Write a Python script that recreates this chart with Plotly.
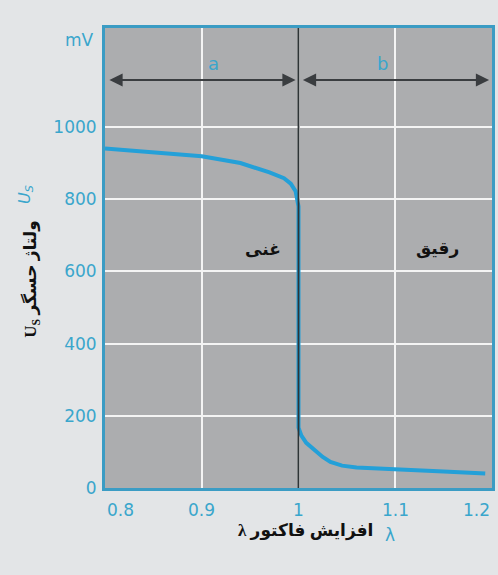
import plotly.graph_objects as go

# Data
lam = [0.8, 0.85, 0.9, 0.94, 0.97, 0.985, 0.992, 0.997, 1.0, 1.0, 1.003, 1.008, 1.016, 1.025, 1.033, 1.045, 1.06, 1.08, 1.1, 1.15, 1.193]
us_mv = [940, 930, 919, 900, 874, 858, 843, 822, 780, 167, 145, 125, 106, 86, 72, 62, 57, 54, 52, 46, 40]

x_tickvals = [0.8, 0.9, 1.0, 1.1, 1.2]
x_ticktext = ["0.8", "0.9", "1", "1.1", "1.2"]
y_tickvals = [0, 200, 400, 600, 800, 1000]
y_ticktext = ["0", "200", "400", "600", "800", "1000"]

region_labels = ["a", "b"]
region_spans = [(0.8, 1.0), (1.0, 1.2)]
region_label_x = [0.912, 1.087]
mix_labels = ["غنی", "رقیق"]
mix_x = [0.963, 1.144]
mix_y = [661, 661]

CYAN = "#3aa6cc"
AXIS = "#3b9cc4"
TICKFONT = dict(color=CYAN, size=17, family="DejaVu Sans")

fig = go.Figure()
fig.add_trace(go.Scatter(x=lam, y=us_mv, mode="lines",
                         line=dict(color="#24a0d8", width=4), hoverinfo="skip", showlegend=False))

fig.add_shape(type="line", x0=1.0, x1=1.0, y0=0, y1=1, yref="paper", xref="x",
              line=dict(color="#2e3436", width=1.8), layer="above")

annotations = []
arrow_y = 1130
for (x0, x1), lab, lx in zip(region_spans, region_labels, region_label_x):
    annotations.append(dict(x=x1 - 0.003, y=arrow_y, ax=x0 + 0.003, ay=arrow_y, xref="x", yref="y",
                            axref="x", ayref="y", text="", showarrow=True, arrowhead=2, startarrowhead=2,
                            arrowside="end+start", arrowsize=1.2, startarrowsize=1.2, arrowwidth=2.2, arrowcolor="#3a3d40"))
    annotations.append(dict(x=lx, y=1175, xref="x", yref="y", text=lab, showarrow=False, xanchor="center",
                            font=dict(color=CYAN, size=18, family="DejaVu Sans")))

for t, xx, yy in zip(mix_labels, mix_x, mix_y):
    annotations.append(dict(x=xx, y=yy, xref="x", yref="y", text="<b>" + t + "</b>", showarrow=False,
                            xanchor="center",
                            font=dict(color="#111111", size=17, family="Liberation Serif, DejaVu Sans")))

anchors = ["left", "center", "center", "center", "right"]
for v, t, a in zip(x_tickvals, x_ticktext, anchors):
    annotations.append(dict(x=v, y=0, xref="x", yref="paper", yshift=-22, yanchor="middle", text=t,
                            showarrow=False, xanchor=a, font=TICKFONT))

annotations += [
    dict(x=-0.065, y=1241, xref="paper", yref="y", xanchor="center", text="mV", showarrow=False, font=TICKFONT),
    dict(x=-0.207, y=814, xref="paper", yref="y", xanchor="center", text="<i>U<sub>S</sub></i>", showarrow=False,
         textangle=-90, font=dict(color=CYAN, size=16, family="DejaVu Sans")),
    dict(x=-0.19, y=578, xref="paper", yref="y", xanchor="center", text="<b>U<sub>S</sub> ولتاژ حسگر</b>", showarrow=False,
         textangle=-90, font=dict(color="#111111", size=17, family="Liberation Serif, DejaVu Sans")),
    dict(x=0.517, y=-0.12, xref="paper", yref="paper", xanchor="center", text="<b>λ افزایش فاکتور</b>", showarrow=False,
         font=dict(color="#111111", size=17, family="Liberation Serif, DejaVu Sans")),
    dict(x=0.736, y=-0.128, xref="paper", yref="paper", xanchor="center", text="λ", showarrow=False,
         font=dict(color=CYAN, size=17, family="DejaVu Sans")),
]

fig.update_layout(
    width=498, height=575,
    margin=dict(l=105, r=3, t=28, b=87),
    paper_bgcolor="#e3e5e7", plot_bgcolor="#acadaf",
    annotations=annotations,
    xaxis=dict(range=[0.8, 1.2], tickvals=x_tickvals, ticktext=x_ticktext, showticklabels=False,
               showgrid=True, gridcolor="#f4f4f4", gridwidth=2, zeroline=False,
               showline=True, linecolor=AXIS, linewidth=3, mirror=True),
    yaxis=dict(range=[0, 1274], tickvals=y_tickvals, ticktext=y_ticktext,
               tickfont=TICKFONT, ticks="outside", ticklen=2, tickcolor="rgba(0,0,0,0)",
               showgrid=True, gridcolor="#f4f4f4", gridwidth=2, zeroline=False,
               showline=True, linecolor=AXIS, linewidth=3, mirror=True),
)

fig.write_html("out.html", config={"displayModeBar": False},
               post_script="document.body.style.margin='0px';")
